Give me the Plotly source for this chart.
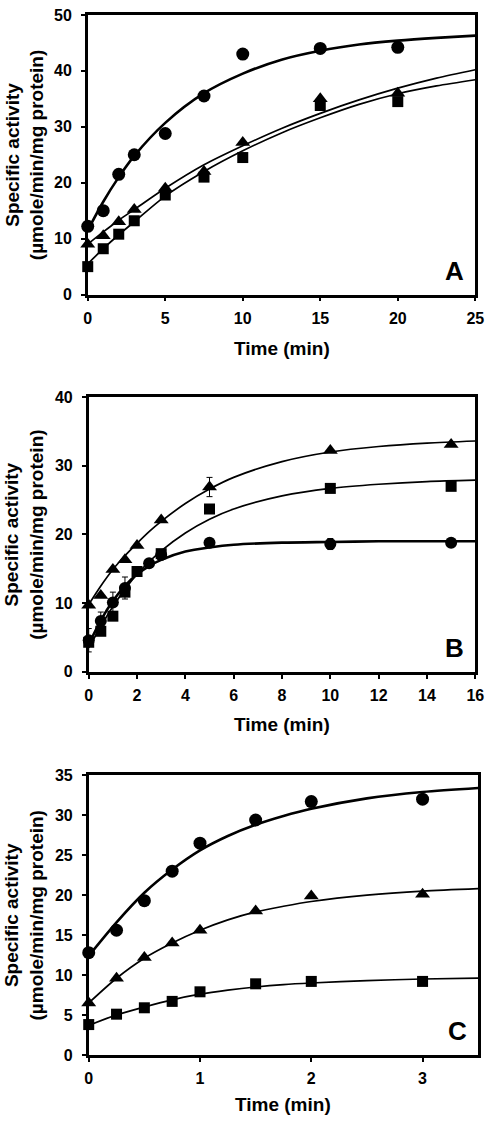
import plotly.graph_objects as go

W, H = 495, 1125

# ---------------- Panel A data ----------------
a_t = [0, 1, 2, 3, 5, 7.5, 10, 15, 20]
a_circle = [12.2, 15.0, 21.5, 25.0, 28.8, 35.5, 43.0, 44.0, 44.2]
a_triangle = [9.0, 10.5, 13.0, 15.2, 19.0, 22.0, 27.2, 35.0, 36.0]
a_square = [5.0, 8.2, 10.8, 13.2, 17.8, 21.0, 24.5, 33.8, 34.5]
a_fit_t = [0, 1, 2, 3, 5, 7.5, 10, 12.5, 15, 17.5, 20, 22.5, 25]
a_fit_circle = [11.5, 16.6, 21.0, 24.8, 30.7, 36.0, 39.5, 42.0, 43.6, 44.7, 45.4, 45.9, 46.3]
a_fit_triangle = [9.0, 11.2, 13.3, 15.2, 19.0, 23.2, 26.6, 29.7, 32.4, 34.8, 36.9, 38.7, 40.2]
a_fit_square = [5.5, 8.2, 10.7, 13.0, 17.6, 22.0, 25.7, 28.9, 31.6, 34.0, 35.9, 37.3, 38.4]

# ---------------- Panel B data ----------------
b_t_tri = [0, 0.5, 1, 1.5, 2, 3, 5, 10, 15]
b_triangle = [9.7, 11.1, 14.9, 16.3, 18.4, 22.1, 26.9, 32.2, 33.1]
b_triangle_err = [0, 0, 0, 0, 0, 0, 1.4, 0, 0]
b_t_sq = [0, 0.5, 1, 1.5, 2, 3, 5, 10, 15]
b_square = [4.3, 5.9, 8.1, 11.6, 14.6, 17.2, 23.7, 26.7, 27.0]
b_t_circ = [0, 0.5, 1, 1.5, 2.5, 3, 5, 10, 15]
b_circle = [4.6, 7.4, 10.1, 12.2, 15.8, 17.0, 18.8, 18.6, 18.8]
b_circle_err = [1.7, 1.3, 1.5, 1.6, 0, 0, 0, 0.8, 0.4]
b_fit_t = [0, 0.5, 1, 1.5, 2, 2.5, 3, 4, 5, 6, 8, 10, 12, 14, 16]
b_fit_triangle = [9.8, 12.5, 14.9, 16.9, 18.7, 20.4, 21.9, 24.5, 26.6, 28.3, 30.6, 32.0, 32.8, 33.3, 33.6]
b_fit_square = [3.5, 6.6, 9.5, 12.0, 14.2, 16.0, 17.6, 20.2, 22.2, 23.7, 25.6, 26.7, 27.3, 27.7, 27.9]
b_fit_circle = [4.0, 7.5, 10.3, 12.5, 14.2, 15.4, 16.3, 17.5, 18.1, 18.5, 18.8, 18.9, 19.0, 19.0, 19.0]

# ---------------- Panel C data ----------------
c_t = [0, 0.25, 0.5, 0.75, 1, 1.5, 2, 3]
c_circle = [12.8, 15.6, 19.3, 23.0, 26.5, 29.4, 31.7, 32.0]
c_triangle = [6.5, 9.6, 12.2, 14.0, 15.6, 18.0, 19.9, 20.1]
c_square = [3.8, 5.1, 5.9, 6.7, 7.9, 8.9, 9.2, 9.2]
c_fit_t = [0, 0.25, 0.5, 0.75, 1, 1.25, 1.5, 1.75, 2, 2.5, 3, 3.5]
c_fit_circle = [12.4, 16.6, 20.3, 23.2, 25.6, 27.4, 28.8, 29.9, 30.8, 32.1, 32.9, 33.4]
c_fit_triangle = [6.5, 9.6, 12.1, 14.0, 15.6, 16.9, 17.9, 18.6, 19.2, 20.0, 20.5, 20.8]
c_fit_square = [3.7, 5.0, 6.0, 6.9, 7.6, 8.1, 8.5, 8.8, 9.0, 9.3, 9.5, 9.6]

panel_letters = ["A", "B", "C"]
x_title = "Time (min)"
y_title = "Specific activity<br>(\u00b5mole/min/mg protein)"

# pixel geometry of plot areas: (left, right, top, bottom)
boxes = [(86, 484, 7, 291), (87, 484, 395, 674), (87, 487, 779, 1063)]

def px(x):
    return x / W

def py(y):
    return 1 - y / H

fig = go.Figure()
FAM = "Liberation Sans, Arial, sans-serif"
BOLD = dict(family=FAM, size=16, color="black", weight="bold")

def add_marks(xs, ys, sym, size, ax, err=None):
    tr = go.Scatter(x=xs, y=ys, mode="markers",
                    marker=dict(symbol=sym, size=size, color="black"),
                    xaxis="x" + ax, yaxis="y" + ax, showlegend=False, cliponaxis=False)
    if err is not None:
        tr.error_y = dict(type="data", array=err, visible=True, color="black", thickness=1, width=3)
    fig.add_trace(tr)

def add_fit(xs, ys, w, ax):
    fig.add_trace(go.Scatter(x=xs, y=ys, mode="lines", line=dict(color="black", width=w, shape="spline", smoothing=0.8),
                             xaxis="x" + ax, yaxis="y" + ax, showlegend=False, hoverinfo="skip"))

# Panel A (axis suffix "")
add_fit(a_fit_t, a_fit_circle, 2.6, "")
add_fit(a_fit_t, a_fit_triangle, 1.7, "")
add_fit(a_fit_t, a_fit_square, 1.7, "")
add_marks(a_t, a_circle, "circle", 13, "")
add_marks(a_t, a_triangle, "triangle-up", 13, "")
add_marks(a_t, a_square, "square", 11, "")

# Panel B
add_fit(b_fit_t, b_fit_triangle, 1.7, "2")
add_fit(b_fit_t, b_fit_square, 1.7, "2")
add_fit(b_fit_t, b_fit_circle, 2.6, "2")
add_marks(b_t_tri, b_triangle, "triangle-up", 13, "2", b_triangle_err)
add_marks(b_t_sq, b_square, "square", 11, "2")
add_marks(b_t_circ, b_circle, "circle", 12, "2", b_circle_err)

# Panel C
add_fit(c_fit_t, c_fit_circle, 2.6, "3")
add_fit(c_fit_t, c_fit_triangle, 1.7, "3")
add_fit(c_fit_t, c_fit_square, 1.7, "3")
add_marks(c_t, c_circle, "circle", 13, "3")
add_marks(c_t, c_triangle, "triangle-up", 13, "3")
add_marks(c_t, c_square, "square", 11, "3")

xranges = [[0, 25], [0, 16], [0, 3.5]]
xdticks = [5, 2, 1]
yranges = [[0, 50], [0, 40], [0, 35]]
ydticks = [10, 10, 5]

layout = dict(width=W, height=H, margin=dict(l=0, r=0, t=0, b=0),
              paper_bgcolor="white", plot_bgcolor="white", showlegend=False)
annotations = []
for i, (l, r, t, b) in enumerate(boxes):
    s = "" if i == 0 else str(i + 1)
    axcommon = dict(showline=True, linecolor="black", linewidth=2.5, mirror=True,
                    ticks="outside", ticklen=4, tickwidth=1.5, tickcolor="black",
                    showgrid=False, zeroline=False, tickfont=BOLD, fixedrange=True)
    layout["xaxis" + s] = dict(axcommon, domain=[px(l), px(r)], range=xranges[i], dtick=xdticks[i],
                               tick0=0, anchor="y" + s, ticklabelstandoff=3)
    layout["yaxis" + s] = dict(axcommon, domain=[py(b), py(t)], range=yranges[i], dtick=ydticks[i],
                               tick0=0, anchor="x" + s, ticklabelstandoff=6)
    annotations.append(dict(text="<b>%s</b>" % panel_letters[i], xref="paper", yref="paper",
                            x=px(r - 21), y=py(b - 24), xanchor="center", yanchor="middle",
                            showarrow=False, font=dict(family=FAM, size=26, color="black")))
    annotations.append(dict(text="<b>%s</b>" % x_title, xref="paper", yref="paper",
                            x=px((l + r) / 2), y=py(b + [55, 53, 50][i]), xanchor="center", yanchor="middle",
                            showarrow=False, font=dict(family=FAM, size=19, color="black")))
    annotations.append(dict(text="<b>%s</b>" % y_title.replace("<br>", "</b><br><b>"), xref="paper", yref="paper",
                            x=px(21), y=py((t + b) / 2), xanchor="center", yanchor="middle", textangle=-90,
                            showarrow=False, font=dict(family=FAM, size=19, color="black")))
layout["annotations"] = annotations
fig.update_layout(**layout)
fig.write_html("out.html", config={"displayModeBar": False},
               post_script="document.body.style.margin='0';document.body.style.overflow='hidden';")
